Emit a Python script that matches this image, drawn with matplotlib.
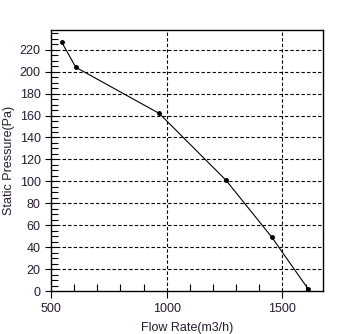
import matplotlib
matplotlib.use("Agg")
import matplotlib.pyplot as plt
from matplotlib.ticker import MultipleLocator

flow = [546, 607, 967, 1256, 1454, 1612]
pressure = [227, 204, 162, 101, 49, 1.5]
x_ticks = [500, 1000, 1500]
y_ticks = list(range(0, 221, 20))

plt.rcParams['font.family'] = ['Liberation Sans', 'DejaVu Sans']
fig = plt.figure(figsize=(3.43, 3.34), dpi=100)
ax = fig.add_axes([51/343, 43/334, 272/343, 261/334])
ax.plot(flow, pressure, color='black', lw=0.8, marker='o', ms=2.5)
ax.set_xlim(500, 1675)
ax.set_ylim(0, 238)
ax.set_xticks(x_ticks)
ax.set_yticks(y_ticks)
ax.xaxis.set_minor_locator(MultipleLocator(100))
ax.yaxis.set_minor_locator(MultipleLocator(5))
txtc = '#2a1a33'
ax.tick_params(axis='both', which='major', direction='inout', length=8, width=0.8, labelsize=9, colors='black', labelcolor=txtc)
ax.tick_params(axis='both', which='minor', direction='in', length=5, width=0.8)
ax.tick_params(axis='x', which='major', direction='out', length=5)
for yv in y_ticks[1:]:
    ax.axhline(yv, color='black', lw=0.8, ls=(0, (3, 2)))
for xv in [1000, 1500]:
    ax.axvline(xv, color='black', lw=0.8, ls=(0, (3, 2)))
for s in ax.spines.values():
    s.set_linewidth(1.0)
    s.set_color('black')
ax.set_xlabel('Flow Rate(m3/h)', fontsize=9, color=txtc, labelpad=5)
ax.set_ylabel('Static Pressure(Pa)', fontsize=9, color=txtc, labelpad=3)
fig.savefig('out.png', dpi=100)
